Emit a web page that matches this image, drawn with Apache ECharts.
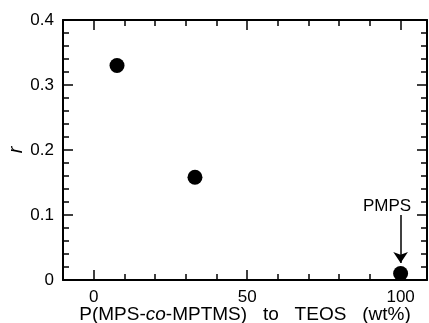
<!DOCTYPE html>
<html>
<head>
<meta charset="utf-8">
<script src="https://cdn.jsdelivr.net/npm/echarts@6/dist/echarts.min.js"></script>
<style>
html,body{margin:0;padding:0;background:#fff;}
#chart{width:429px;height:323px;}
</style>
</head>
<body>
<div id="chart"></div>
<script>
// Data
var ptbContent = [7.6, 33, 100];          // P(MPS-co-MPTMS) to TEOS (wt%)
var rValues = [0.33, 0.158, 0.01];        // r
var xMajorTicks = [0, 50, 100];
var annotationText = 'PMPS';
var annotationLabelAt = [95.6, 0.113];
var arrowFrom = [100, 0.1];
var arrowTo = [100, 0.026];

var FONT = '"Liberation Sans", Arial, Helvetica, sans-serif';
var points = ptbContent.map(function (x, i) { return [x, rValues[i]]; });

var xMin = -10, xMax = 108.6;
var gridRect = { left: 63, right: 2, top: 20, bottom: 43, containLabel: false, outerBoundsMode: 'none' };
var axisLine = { show: true, onZero: false, lineStyle: { color: '#000', width: 2 } };
var noLine = { show: false, onZero: false };

var chart = echarts.init(document.getElementById('chart'), null, { renderer: 'canvas' });
chart.setOption({
  backgroundColor: '#fff',
  animation: false,
  grid: [
    Object.assign({}, gridRect),
    Object.assign({}, gridRect)
  ],
  xAxis: [
    { // minor ticks bottom
      type: 'value', gridIndex: 0, position: 'bottom', min: xMin, max: xMax, interval: 10,
      axisLine: axisLine,
      axisTick: { show: true, inside: true, length: 6, lineStyle: { color: '#000', width: 1.5 } },
      axisLabel: { show: false }, splitLine: { show: false }
    },
    { // minor ticks top
      type: 'value', gridIndex: 0, position: 'top', min: xMin, max: xMax, interval: 10,
      axisLine: axisLine,
      axisTick: { show: true, inside: true, length: 6, lineStyle: { color: '#000', width: 1.5 } },
      axisLabel: { show: false }, splitLine: { show: false }
    },
    { // major ticks + labels bottom
      type: 'value', gridIndex: 1, position: 'bottom', min: xMin, max: xMax,
      axisLine: noLine,
      axisTick: { show: true, inside: true, length: 10, customValues: xMajorTicks,
                  lineStyle: { color: '#000', width: 1.5 } },
      axisLabel: { show: true, customValues: xMajorTicks, color: '#000', fontSize: 17,
                   fontFamily: FONT, margin: 9 },
      splitLine: { show: false },
      name: '{n|P(MPS-}{i|co}{n|-MPTMS)   to   TEOS   (wt%)}',
      nameLocation: 'middle', nameGap: 25, nameMoveOverlap: false,
      nameTextStyle: {
        rich: {
          n: { fontSize: 19, fontFamily: FONT, color: '#000' },
          i: { fontSize: 19, fontFamily: FONT, color: '#000', fontStyle: 'italic' }
        }
      }
    },
    { // major ticks top
      type: 'value', gridIndex: 1, position: 'top', min: xMin, max: xMax,
      axisLine: noLine,
      axisTick: { show: true, inside: true, length: 10, customValues: xMajorTicks,
                  lineStyle: { color: '#000', width: 1.5 } },
      axisLabel: { show: false }, splitLine: { show: false }
    }
  ],
  yAxis: [
    {
      type: 'value', gridIndex: 0, position: 'left', min: 0, max: 0.4, interval: 0.1,
      axisLine: axisLine,
      axisTick: { show: true, inside: true, length: 10, lineStyle: { color: '#000', width: 1.5 } },
      minorTick: { show: true, splitNumber: 5, length: 6, lineStyle: { color: '#000', width: 1.5 } },
      axisLabel: { color: '#000', fontSize: 17, fontFamily: FONT, margin: 9 },
      splitLine: { show: false },
      name: 'r', nameLocation: 'middle', nameGap: 37, nameRotate: 90, nameMoveOverlap: false,
      nameTextStyle: { fontSize: 20, fontFamily: FONT, color: '#000', fontStyle: 'italic' }
    },
    {
      type: 'value', gridIndex: 0, position: 'right', min: 0, max: 0.4, interval: 0.1,
      axisLine: axisLine,
      axisTick: { show: true, inside: true, length: 10, lineStyle: { color: '#000', width: 1.5 } },
      minorTick: { show: true, splitNumber: 5, length: 6, lineStyle: { color: '#000', width: 1.5 } },
      axisLabel: { show: false }, splitLine: { show: false }
    },
    {
      type: 'value', gridIndex: 1, min: 0, max: 0.4, show: false
    }
  ],
  series: [
    {
      type: 'scatter', xAxisIndex: 0, yAxisIndex: 0,
      data: points, symbol: 'circle', symbolSize: 15,
      itemStyle: { color: '#000', opacity: 1 },
      markLine: {
        silent: true, symbol: ['none', 'arrow'], symbolSize: 11,
        label: { show: false },
        lineStyle: { color: '#000', width: 1.5, type: 'solid', opacity: 1 },
        data: [[{ coord: arrowFrom }, { coord: arrowTo }]]
      }
    },
    {
      type: 'scatter', xAxisIndex: 0, yAxisIndex: 0,
      data: [annotationLabelAt], symbolSize: 0, silent: true,
      itemStyle: { opacity: 1 },
      label: { show: true, position: 'inside', formatter: annotationText,
               fontSize: 17, fontFamily: FONT, color: '#000' }
    }
  ]
});
</script>
</body>
</html>
